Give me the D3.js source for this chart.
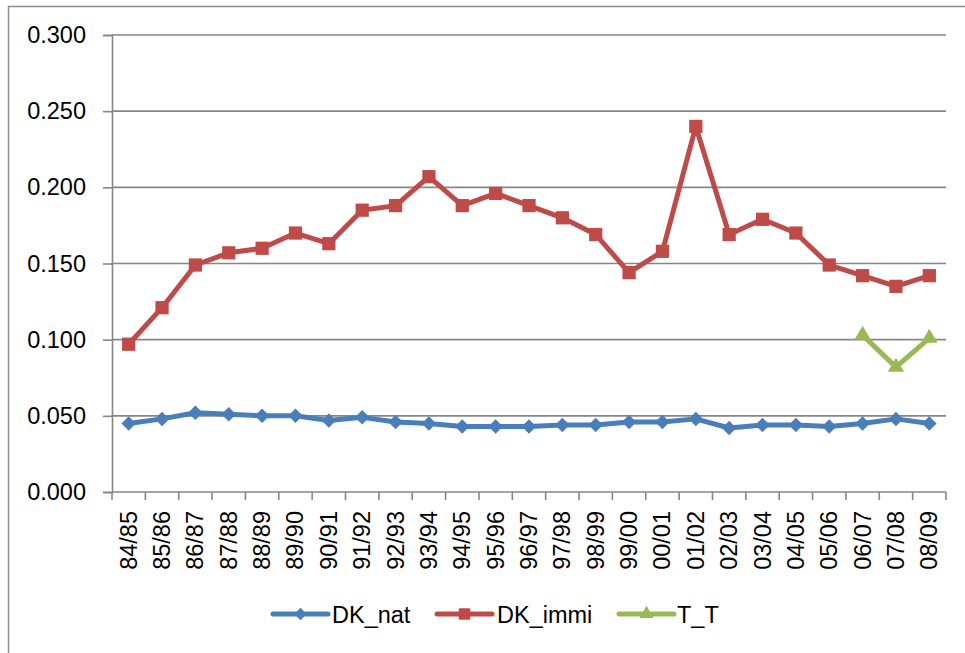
<!DOCTYPE html>
<html>
<head>
<meta charset="utf-8">
<script src="https://cdn.jsdelivr.net/npm/d3@7/dist/d3.min.js"></script>
<style>
  html, body { margin: 0; padding: 0; background: #fff; }
  svg { display: block; }
  text { font-family: "Liberation Sans", Arial, sans-serif; fill: #000; }
</style>
</head>
<body>
<svg id="chart" width="965" height="653"></svg>
<script>
// School years on the category axis
const categories = ["84/85","85/86","86/87","87/88","88/89","89/90","90/91","91/92","92/93","93/94",
  "94/95","95/96","96/97","97/98","98/99","99/00","00/01","01/02","02/03","03/04",
  "04/05","05/06","06/07","07/08","08/09"];

// Series values (null = no observation)
const dkNat = [0.045,0.048,0.052,0.051,0.050,0.050,0.047,0.049,0.046,0.045,
  0.043,0.043,0.043,0.044,0.044,0.046,0.046,0.048,0.042,0.044,
  0.044,0.043,0.045,0.048,0.045];
const dkImmi = [0.097,0.121,0.149,0.157,0.160,0.170,0.163,0.185,0.188,0.207,
  0.188,0.196,0.188,0.180,0.169,0.144,0.158,0.240,0.169,0.179,
  0.170,0.149,0.142,0.135,0.142];
const tt = [null,null,null,null,null,null,null,null,null,null,
  null,null,null,null,null,null,null,null,null,null,
  null,null,0.103,0.082,0.101];

const yTicks = [0, 0.05, 0.10, 0.15, 0.20, 0.25, 0.30];

const seriesList = [
  { name: "DK_nat",  values: dkNat,  color: "#4a7ebb", marker: "diamond" },
  { name: "DK_immi", values: dkImmi, color: "#be4b48", marker: "square" },
  { name: "T_T",     values: tt,     color: "#98b954", marker: "triangle" }
];

const svg = d3.select("#chart");
const gridColor = "#868686";

// Outer chart frame
svg.append("rect")
  .attr("x", 8.5).attr("y", 6.5)
  .attr("width", 1000).attr("height", 700)
  .attr("fill", "none").attr("stroke", "#8c8c8c").attr("stroke-width", 1.5);

const plot = { left: 112, right: 946, top: 35, bottom: 492 };

const x = d3.scaleBand().domain(categories).range([plot.left, plot.right]).paddingInner(0).paddingOuter(0);
const y = d3.scaleLinear().domain([0, 0.3]).range([plot.bottom, plot.top]);
const cx = d => x(d) + x.bandwidth() / 2;

// Horizontal gridlines
svg.append("g").selectAll("line").data(yTicks.filter(t => t > 0)).join("line")
  .attr("x1", plot.left).attr("x2", plot.right)
  .attr("y1", d => y(d)).attr("y2", d => y(d))
  .attr("stroke", gridColor).attr("stroke-width", 1.6);

// Y axis
const yAxis = svg.append("g").attr("transform", `translate(${plot.left},0)`)
  .call(d3.axisLeft(y).tickValues(yTicks).tickFormat(d3.format(".3f")).tickSize(9).tickPadding(17));
yAxis.select(".domain").attr("stroke", gridColor).attr("stroke-width", 1.6);
yAxis.selectAll(".tick line").attr("stroke", gridColor).attr("stroke-width", 1.6);
yAxis.selectAll(".tick text").style("font-size", "23.5px").attr("font-family", null);

// X axis: baseline, boundary ticks, rotated labels
const xg = svg.append("g");
xg.append("line")
  .attr("x1", plot.left).attr("x2", plot.right)
  .attr("y1", plot.bottom).attr("y2", plot.bottom)
  .attr("stroke", gridColor).attr("stroke-width", 1.6);
const boundaries = categories.map(c => x(c)).concat([x(categories[categories.length - 1]) + x.bandwidth()]);
xg.selectAll("line.tk").data(boundaries).join("line").attr("class", "tk")
  .attr("x1", d => d).attr("x2", d => d)
  .attr("y1", plot.bottom).attr("y2", plot.bottom + 8)
  .attr("stroke", gridColor).attr("stroke-width", 1.6);
xg.selectAll("text").data(categories).join("text")
  .attr("transform", d => `translate(${cx(d) + 8},${plot.bottom + 19}) rotate(-90)`)
  .attr("text-anchor", "end")
  .style("font-size", "23.5px")
  .text(d => d);

// Marker shapes
function markerPath(type, scale) {
  if (type === "diamond") return d3.symbol(d3.symbolSquare, 105 * scale)();
  if (type === "square") return d3.symbol(d3.symbolSquare, 175 * scale)();
  return d3.symbol(d3.symbolTriangle, 115 * scale)();
}
function markerTransform(type, px, py) {
  return type === "diamond" ? `translate(${px},${py}) rotate(45)` : `translate(${px},${py})`;
}

// Series lines and markers
seriesList.forEach(s => {
  const pts = categories.map((c, i) => ({ c, v: s.values[i] })).filter(p => p.v != null);
  const line = d3.line().x(p => cx(p.c)).y(p => y(p.v));
  const g = svg.append("g");
  g.append("path").datum(pts)
    .attr("d", line)
    .attr("fill", "none").attr("stroke", s.color)
    .attr("stroke-width", 5).attr("stroke-linejoin", "round");
  g.selectAll("path.m").data(pts).join("path").attr("class", "m")
    .attr("d", markerPath(s.marker, 1))
    .attr("transform", p => markerTransform(s.marker, cx(p.c), y(p.v)))
    .attr("fill", s.color);
});

// Legend
const legendItems = [
  { x0: 273, tx: 332 },
  { x0: 437, tx: 497 },
  { x0: 619, tx: 677 }
];
const ly = 614;
seriesList.forEach((s, i) => {
  const li = legendItems[i];
  const g = svg.append("g");
  g.append("line")
    .attr("x1", li.x0).attr("x2", li.x0 + 55)
    .attr("y1", ly).attr("y2", ly)
    .attr("stroke", s.color).attr("stroke-width", 5).attr("stroke-linecap", "round");
  g.append("path")
    .attr("d", markerPath(s.marker, 0.75))
    .attr("transform", markerTransform(s.marker, li.x0 + 27.5, ly))
    .attr("fill", s.color);
  g.append("text")
    .attr("x", li.tx).attr("y", ly + 8.5)
    .style("font-size", "23.5px")
    .text(s.name);
});
</script>
</body>
</html>
